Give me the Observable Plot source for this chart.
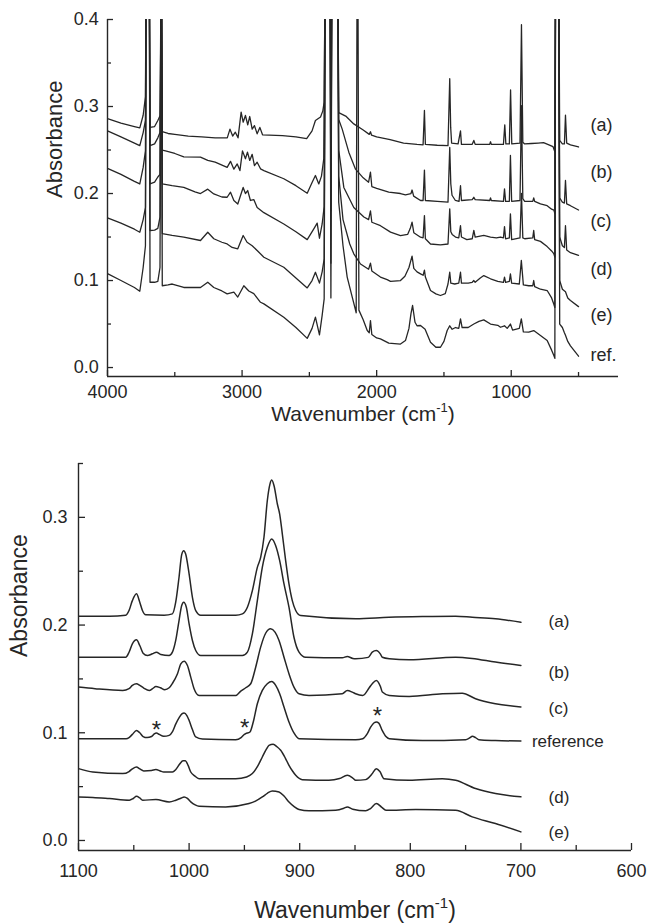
<!DOCTYPE html>
<html><head><meta charset="utf-8">
<script src="https://cdn.jsdelivr.net/npm/d3@7"></script>
<script src="https://cdn.jsdelivr.net/npm/@observablehq/plot@0.6"></script>
<style>
html,body{margin:0;padding:0;background:#fff;}
body{width:649px;height:924px;overflow:hidden;font-family:"Liberation Sans",Arial,sans-serif;}
#chart svg{display:block;}
</style></head>
<body><div id="chart"></div>
<script>
// ===== Top panel: full spectra (wavenumber, absorbance) =====
const specA = [[4000,.286],[3900,.281],[3800,.277],[3760,.2755],[3735,.29],[3718,.311],[3712,.5],[3690,.5],[3684,.276],[3650,.277],[3626,.284],[3608,.29],[3600,.5],[3593,.271],[3550,.269],[3500,.268],[3400,.266],[3300,.265],[3200,.264],[3110,.264],[3090,.274],[3070,.266],[3050,.2705],[3030,.264],[3007,.2935],[2992,.282],[2975,.2897],[2958,.279],[2943,.2885],[2925,.274],[2908,.278],[2888,.2686],[2868,.276],[2848,.2675],[2700,.2665],[2600,.265],[2520,.263],[2480,.272],[2455,.284],[2417,.288],[2400,.295],[2390,.305],[2381,.5],[2347,.5],[2340,.30],[2332,.5],[2290,.5],[2282,.293],[2230,.289],[2170,.280],[2100,.273],[2055,.268],[2046,.271],[2038,.267],[2000,.265],[1900,.262],[1800,.258],[1700,.2565],[1655,.256],[1645,.2954],[1638,.2565],[1550,.2555],[1470,.255],[1457,.332],[1450,.276],[1443,.258],[1395,.257],[1377,.272],[1370,.2565],[1290,.2565],[1278,.261],[1268,.2565],[1160,.2565],[1154,.2595],[1148,.2565],[1058,.2565],[1048,.279],[1040,.257],[1014,.257],[1005,.319],[996,.257],[935,.258],[924,.394],[914,.259],[900,.257],[850,.2575],[800,.258],[760,.2585],[720,.256],[690,.254],[676,.248],[670,.5],[648,.5],[640,.261],[620,.257],[605,.257],[597,.29],[588,.258],[560,.256],[500,.2535]];
const specB = [[4000,.272],[3900,.265],[3800,.258],[3760,.255],[3735,.27],[3718,.284],[3712,.5],[3690,.5],[3684,.255],[3650,.257],[3626,.264],[3610,.27],[3600,.5],[3593,.25],[3569,.249],[3500,.246],[3433,.242],[3309,.2418],[3255,.238],[3200,.236],[3111,.230],[3086,.237],[3061,.228],[3036,.234],[3016,.2264],[2997,.249],[2975,.240],[2960,.2475],[2943,.238],[2925,.245],[2908,.232],[2888,.236],[2863,.2284],[2838,.2264],[2690,.217],[2600,.209],[2516,.2003],[2479,.213],[2455,.2207],[2430,.211],[2410,.22],[2393,.240],[2381,.5],[2347,.5],[2340,.24],[2332,.5],[2290,.5],[2282,.285],[2256,.274],[2207,.2475],[2157,.228],[2100,.218],[2060,.213],[2046,.2245],[2036,.208],[2000,.206],[1910,.2015],[1823,.200],[1786,.1985],[1745,.2],[1737,.204],[1725,.197],[1674,.192],[1655,.192],[1645,.227],[1638,.192],[1550,.191],[1470,.19],[1457,.253],[1449,.211],[1440,.198],[1415,.192],[1388,.191],[1377,.209],[1370,.192],[1290,.193],[1278,.1957],[1268,.193],[1160,.192],[1154,.195],[1148,.192],[1058,.191],[1050,.2054],[1042,.191],[1014,.191],[1006,.2437],[997,.191],[935,.192],[924,.301],[914,.194],[900,.191],[840,.191],[833,.195],[826,.191],[783,.188],[733,.186],[700,.182],[683,.181],[676,.177],[670,.5],[648,.5],[640,.195],[620,.19],[605,.189],[597,.215],[588,.188],[560,.186],[500,.181]];
const specC = [[4000,.229],[3900,.222],[3800,.214],[3760,.211],[3735,.23],[3718,.249],[3712,.5],[3690,.5],[3684,.211],[3650,.213],[3626,.219],[3610,.222],[3600,.5],[3593,.211],[3520,.209],[3433,.207],[3350,.202],[3309,.200],[3255,.205],[3210,.1995],[3150,.196],[3111,.1957],[3086,.2015],[3061,.192],[3032,.188],[2992,.207],[2975,.200],[2958,.2034],[2938,.192],[2913,.193],[2888,.184],[2838,.178],[2690,.165],[2600,.156],[2516,.147],[2467,.1594],[2442,.166],[2425,.1486],[2405,.165],[2390,.185],[2381,.5],[2347,.5],[2340,.18],[2332,.5],[2290,.5],[2282,.25],[2244,.207],[2170,.184],[2095,.173],[2060,.17],[2046,.180],[2036,.167],[1972,.163],[1897,.1556],[1823,.1517],[1770,.153],[1750,.16],[1737,.167],[1724,.155],[1674,.1498],[1655,.149],[1645,.1747],[1638,.148],[1600,.142],[1526,.141],[1470,.142],[1457,.1824],[1449,.156],[1439,.153],[1414,.150],[1390,.149],[1377,.163],[1370,.15],[1330,.147],[1290,.148],[1278,.1575],[1268,.150],[1204,.152],[1154,.150],[1110,.149],[1080,.15],[1058,.149],[1050,.162],[1042,.148],[1014,.149],[1006,.1767],[997,.147],[935,.149],[924,.20],[914,.149],[900,.148],[840,.149],[833,.1575],[826,.147],[783,.145],[733,.139],[700,.134],[684,.131],[676,.127],[670,.5],[648,.5],[640,.15],[620,.14],[605,.138],[597,.163],[588,.135],[560,.132],[500,.129]];
const specD = [[4000,.172],[3900,.166],[3800,.159],[3760,.1555],[3735,.17],[3718,.184],[3712,.5],[3690,.5],[3684,.1575],[3650,.158],[3626,.160],[3610,.173],[3600,.5],[3593,.154],[3520,.152],[3433,.150],[3309,.146],[3255,.1555],[3210,.148],[3150,.144],[3111,.142],[3074,.138],[3032,.1364],[2992,.1517],[2963,.144],[2925,.140],[2888,.1345],[2838,.1268],[2690,.1153],[2600,.103],[2516,.0915],[2480,.10],[2455,.1095],[2425,.097],[2405,.11],[2390,.125],[2381,.5],[2347,.5],[2340,.12],[2332,.5],[2290,.5],[2282,.22],[2250,.17],[2200,.142],[2170,.1307],[2120,.119],[2060,.113],[2046,.12],[2036,.111],[1972,.104],[1922,.101],[1897,.099],[1823,.100],[1790,.105],[1760,.115],[1737,.128],[1724,.114],[1700,.11],[1674,.1077],[1655,.106],[1645,.112],[1638,.104],[1600,.0885],[1560,.0847],[1526,.0828],[1490,.085],[1470,.096],[1457,.1095],[1449,.097],[1420,.096],[1390,.097],[1377,.1095],[1370,.097],[1320,.097],[1290,.098],[1278,.100],[1268,.098],[1230,.103],[1204,.1057],[1154,.102],[1100,.099],[1058,.098],[1050,.104],[1042,.098],[1014,.099],[1006,.1077],[997,.097],[940,.096],[925,.123],[910,.095],[870,.094],[840,.094],[833,.100],[826,.093],[783,.090],[733,.0885],[700,.08],[684,.073],[676,.069],[670,.5],[648,.5],[640,.10],[620,.09],[597,.087],[580,.08],[560,.077],[500,.07]];
const specE = [[4000,.108],[3900,.100],[3800,.092],[3760,.0877],[3735,.115],[3718,.14],[3712,.5],[3690,.5],[3684,.098],[3650,.098],[3626,.099],[3610,.115],[3600,.5],[3593,.094],[3550,.095],[3519,.096],[3433,.092],[3309,.092],[3255,.098],[3210,.092],[3150,.088],[3111,.0847],[3061,.0866],[3032,.081],[2987,.094],[2950,.088],[2913,.085],[2863,.075],[2838,.0732],[2690,.0578],[2600,.046],[2516,.0335],[2480,.045],[2455,.058],[2425,.0375],[2405,.06],[2390,.079],[2381,.5],[2347,.5],[2340,.08],[2332,.5],[2290,.5],[2282,.19],[2250,.14],[2219,.104],[2180,.08],[2152,.063],[2145,.5],[2140,.5],[2132,.066],[2100,.055],[2070,.0425],[2055,.04],[2046,.054],[2036,.038],[2000,.034],[1972,.033],[1910,.028],[1823,.027],[1786,.031],[1760,.045],[1745,.062],[1733,.0713],[1715,.052],[1700,.048],[1674,.0483],[1640,.044],[1600,.029],[1560,.0233],[1526,.0233],[1500,.03],[1476,.0425],[1457,.048],[1439,.044],[1414,.046],[1390,.045],[1377,.056],[1365,.046],[1320,.046],[1278,.050],[1240,.053],[1204,.0548],[1154,.050],[1100,.0485],[1080,.0463],[1050,.048],[1030,.045],[1006,.050],[990,.043],[940,.045],[925,.056],[910,.041],[870,.0406],[833,.0425],[783,.0368],[733,.031],[700,.02],[684,.014],[676,.0105],[670,.5],[648,.5],[640,.05],[620,.046],[605,.04],[597,.037],[580,.03],[560,.025],[500,.013]];

const topLabels = ["(a)","(b)","(c)","(d)","(e)","ref."];
const topLabelY = [.279,.2245,.168,.1134,.0598,.0138];
const topLabelX = 411;
const topXMajor = [4000,3000,2000,1000];
const topXMinor = [3500,2500,1500,500];
const topYMajor = [0,0.1,0.2,0.3,0.4];
const topYMinor = [0.05,0.15,0.25,0.35];

// ===== Bottom panel: 1100-700 cm-1 region =====
const botA = [[1100,.2082],[1072,.2082],[1057.3,.2092],[1054.3,.2135],[1051.3,.2227],[1047.6,.229],[1044.6,.2212],[1042.2,.2135],[1039.2,.2095],[1022.6,.2092],[1015.1,.2104],[1012.1,.2212],[1009.1,.2444],[1006.7,.2654],[1004.9,.2691],[1003.1,.2660],[1000,.2475],[997,.2258],[994,.2135],[989.5,.2092],[957.8,.2092],[951.8,.2104],[947.3,.2166],[942.8,.232],[938.3,.2536],[935.3,.2629],[932.3,.2815],[929.3,.3154],[926.9,.3309],[925.3,.3346],[923.2,.3293],[920.2,.3124],[918.1,.3031],[915.7,.2845],[912.7,.2598],[909.7,.2382],[906.7,.2227],[903.6,.2135],[899.1,.2088],[849.4,.2058],[819.3,.2072],[789,.2079],[759,.2082],[744,.2072],[723,.2058],[700,.2026]];
const botB = [[1100,.1701],[1057.3,.1701],[1054.3,.1748],[1051.3,.1826],[1047.6,.1863],[1044.6,.1810],[1041.6,.1739],[1037.7,.1717],[1033.2,.1733],[1029.5,.1748],[1025.6,.1727],[1018.1,.1717],[1015.1,.1748],[1012.1,.1857],[1009.1,.2042],[1006.7,.2181],[1004.9,.2212],[1002.5,.2166],[1000,.201],[997,.1857],[994,.1764],[989.5,.1717],[951.8,.1717],[947.3,.1749],[942.8,.1918],[938.3,.2227],[933.8,.2536],[929.3,.2722],[925.3,.2799],[921.7,.2737],[918.1,.2598],[914.2,.2382],[909.7,.2166],[905.2,.1887],[900.6,.1749],[894.6,.1701],[861.5,.1696],[857,.1708],[852,.1690],[849.4,.1687],[838,.1700],[834.4,.1748],[830.7,.1763],[827,.1730],[825.3,.1701],[819,.1687],[801,.1677],[759,.1701],[744,.1690],[723,.1656],[700,.1625]];
const botC = [[1100,.1424],[1085,.1409],[1060,.1393],[1054.3,.1410],[1051.3,.1440],[1047.6,.1455],[1044.6,.1440],[1041,.1415],[1036,.1393],[1033,.1410],[1030,.1430],[1026,.1418],[1022,.1400],[1018,.1418],[1015,.1460],[1010.5,.1548],[1007.5,.1640],[1004.5,.1665],[1001.5,.1625],[998.5,.1517],[995.5,.1409],[991,.1347],[957.8,.1347],[953.3,.1387],[948.8,.1418],[944.3,.1455],[939.8,.1609],[935.3,.1795],[930.8,.1924],[926.3,.1965],[922.3,.1934],[918.7,.1857],[914.2,.1702],[909.7,.1548],[905.2,.1424],[900.6,.1362],[891.6,.1347],[861.5,.1362],[857,.1393],[852,.1375],[849.4,.1362],[843,.1347],[837,.1420],[834.4,.1455],[830.7,.1486],[827,.1430],[825.3,.1378],[819,.1347],[801,.1337],[771,.1362],[753,.1368],[741,.1316],[723,.127],[700,.1239]];
const botRef = [[1100,.0945],[1057,.0945],[1054.3,.0955],[1051.3,.0985],[1047.6,.1020],[1044.6,.1000],[1041.6,.0965],[1038,.0955],[1034,.0965],[1031.5,.0990],[1029.5,.0998],[1027,.0985],[1023,.0967],[1018,.0976],[1015,.1010],[1012,.1082],[1009,.1140],[1006.5,.1175],[1004.5,.1183],[1002,.1160],[1000,.1115],[997,.1030],[994,.0961],[988,.0942],[957.8,.0936],[953,.0955],[950,.0985],[948.8,.0992],[945,.1007],[942,.1100],[938.3,.1270],[933.8,.1393],[929.3,.1455],[925.3,.1476],[921.7,.1440],[918.1,.1362],[914.2,.1239],[909.7,.1100],[905.2,.0998],[900.6,.0945],[849.4,.0936],[843,.0945],[839,.0990],[836,.1050],[832.5,.1095],[830.7,.1100],[828.5,.1090],[825.3,.1020],[822,.0965],[819,.0945],[789,.0928],[750,.0936],[746,.0955],[744,.0967],[741,.0955],[738,.0936],[723,.0928],[700,.0923]];
const botD = [[1100,.0667],[1087,.0636],[1060,.0621],[1054.3,.0640],[1051.3,.0665],[1047.6,.0683],[1044.6,.0665],[1041,.0646],[1034,.0650],[1030,.0658],[1026,.0645],[1023,.0636],[1015,.0636],[1012,.0660],[1008.5,.0710],[1005.5,.0740],[1003.5,.0740],[1001,.0700],[998.5,.0636],[995,.0600],[991,.0574],[957.8,.0574],[948,.0590],[942.8,.0621],[938,.0690],[933.8,.0775],[930,.0850],[927.8,.0883],[924,.0893],[920.5,.0870],[917.2,.0837],[913,.0765],[909.7,.0698],[906.5,.0645],[903.6,.0605],[897.6,.0565],[873.6,.0559],[864,.0575],[857,.0605],[852,.0580],[849.4,.0559],[840.4,.0565],[836,.0600],[834.4,.0621],[830.7,.0667],[827.5,.0640],[823.8,.0574],[801,.0559],[771,.0574],[759,.0559],[741,.0482],[723,.0436],[700,.0405]];
const botE = [[1100,.0404],[1087,.0400],[1072,.0389],[1054,.0374],[1050.5,.0390],[1047.6,.0410],[1044.6,.0395],[1042,.0374],[1030,.0380],[1018,.0358],[1012,.0374],[1007,.0395],[1004.5,.0404],[1001.5,.0390],[998.5,.0358],[994.5,.0330],[991,.0318],[967,.0312],[945.8,.0343],[940,.0365],[933.8,.0404],[929,.0440],[924.8,.0460],[918.7,.0451],[914,.0410],[909.7,.0358],[905,.0315],[900.6,.0287],[891.6,.0275],[867.5,.0281],[860,.0300],[857,.0312],[852,.0290],[840.4,.0275],[836,.0296],[830.7,.0343],[826,.0310],[822,.0281],[795,.0287],[759,.0281],[744,.0219],[723,.0157],[700,.0080]];

const botLabels = ["(a)","(b)","(c)","reference","(d)","(e)"];
const botLabelY = [.2034,.156,.1222,.0918,.0402,.0077];
const botLabelX = [675,675,675,690,675,675];
const starX = [1029.5,949.7,829.8];
const starY = [.1083,.1097,.1206];
const botXMajor = [1100,1000,900,800,700,600];
const botXMinor = [1050,950,850,750,650];
const botYMajor = [0,0.1,0.2,0.3];
const botYMinor = [0.05,0.15,0.25,0.35];

// ===== build =====
const INK = "#262626";
const FONT = "Liberation Sans, Arial, Helvetica, sans-serif";
const rows = (list) => list.flatMap(([s, arr]) => arr.map(([w, a]) => ({s, w, a})));
const topRows = rows([["a", specA],["b", specB],["c", specC],["d", specD],["e", specE]]);
const botRows = rows([["a", botA],["b", botB],["c", botC],["ref", botRef],["d", botD],["e", botE]]);

function axes(xMajor, xMinor, yMajor, yMinor, xPad, yPad, fs, majLen, minLen) {
  const common = {label: null, stroke: INK, strokeWidth: 1.3};
  return [
    Plot.axisX(xMajor, {...common, tickSize: 0, tickPadding: xPad, tickFormat: d => String(d), fontSize: fs, fill: INK}),
    Plot.axisX(xMajor, {...common, tickSize: -majLen, tickFormat: () => ""}),
    Plot.axisX(xMinor, {...common, tickSize: -minLen, tickFormat: () => ""}),
    Plot.axisY(yMajor, {...common, tickSize: 0, tickPadding: yPad, tickFormat: d => d.toFixed(1), fontSize: fs, fill: INK}),
    Plot.axisY(yMajor, {...common, tickSize: -majLen, tickFormat: () => ""}),
    Plot.axisY(yMinor, {...common, tickSize: -minLen, tickFormat: () => ""})
  ];
}

const topYDom = [-0.0103, 0.4];
const topPlot = Plot.plot({
  width: 649, height: 430,
  marginTop: 19, marginBottom: 54, marginLeft: 107, marginRight: 31,
  style: {fontFamily: FONT, background: "white", color: INK},
  x: {domain: [4000, 203], axis: null, label: null},
  y: {domain: topYDom, axis: null, label: null},
  marks: [
    Plot.line(topRows, {x: "w", y: "a", z: "s", stroke: INK, strokeWidth: 1.3, clip: true}),
    Plot.ruleX([4000], {stroke: INK, strokeWidth: 1.4}),
    Plot.ruleY([topYDom[0]], {stroke: INK, strokeWidth: 1.4}),
    ...axes(topXMajor, topXMinor, topYMajor, topYMinor, 8.5, 8.7, 18, 6, 4),
    Plot.text(topLabels, {x: () => topLabelX, y: (d, i) => topLabelY[i], text: d => d, textAnchor: "start", fontSize: 18, fill: INK}),
    Plot.text(["Absorbance"], {frameAnchor: "left", rotate: -90, dx: -53, text: d => d, fontSize: 22, fill: INK}),
    Plot.text(["Wavenumber (cm-1)"], {frameAnchor: "bottom", lineAnchor: "middle", dy: 38, text: d => d, fontSize: 21, fill: INK})
  ]
});

const botYDom = [-0.0093, 0.35];
const botPlot = Plot.plot({
  width: 649, height: 494,
  marginTop: 33, marginBottom: 74, marginLeft: 78, marginRight: 18,
  style: {fontFamily: FONT, background: "white", color: INK},
  x: {domain: [1100, 600], axis: null, label: null},
  y: {domain: botYDom, axis: null, label: null},
  marks: [
    Plot.line(botRows, {x: "w", y: "a", z: "s", stroke: INK, strokeWidth: 1.5, curve: "monotone-x", clip: true}),
    Plot.ruleX([1100], {stroke: INK, strokeWidth: 1.4}),
    Plot.ruleY([botYDom[0]], {stroke: INK, strokeWidth: 1.4}),
    ...axes(botXMajor, botXMinor, botYMajor, botYMinor, 14, 11, 18, 7, 5),
    Plot.text(botLabels, {x: (d, i) => botLabelX[i], y: (d, i) => botLabelY[i], text: d => d, textAnchor: "start", fontSize: 17, fill: INK}),
    Plot.text(starX, {x: d => d, y: (d, i) => starY[i], text: () => "*", fontSize: 24, dy: 6, fill: INK}),
    Plot.text(["Absorbance"], {frameAnchor: "left", rotate: -90, dx: -59, text: d => d, fontSize: 23, fill: INK}),
    Plot.text(["Wavenumber (cm-1)"], {frameAnchor: "bottom", lineAnchor: "middle", dy: 60, text: d => d, fontSize: 23, fill: INK})
  ]
});

function superscript(svg, fs) {
  const ns = "http://www.w3.org/2000/svg";
  svg.querySelectorAll("text").forEach(t => {
    if (t.textContent === "Wavenumber (cm-1)") {
      while (t.firstChild) t.removeChild(t.firstChild);
      const a = document.createElementNS(ns, "tspan"); a.textContent = "Wavenumber (cm";
      const b = document.createElementNS(ns, "tspan"); b.textContent = "-1";
      b.setAttribute("dy", String(-0.42 * fs)); b.setAttribute("font-size", String(Math.round(fs * 0.64)));
      const c = document.createElementNS(ns, "tspan"); c.textContent = ")";
      c.setAttribute("dy", String(0.42 * fs));
      t.append(a, b, c);
    }
  });
}
superscript(topPlot, 21);
superscript(botPlot, 23);
const chart = document.getElementById("chart");
chart.append(topPlot, botPlot);
</script>
</body></html>
